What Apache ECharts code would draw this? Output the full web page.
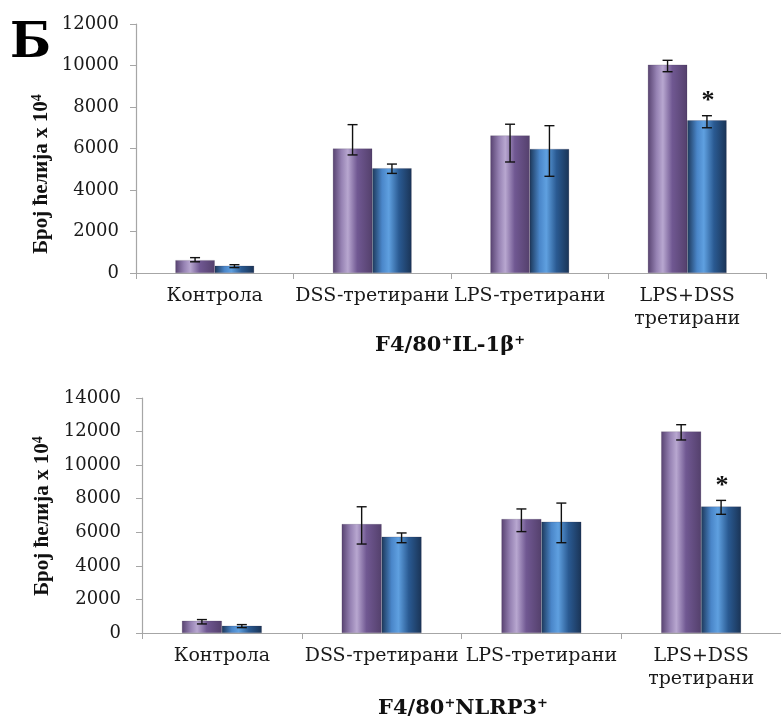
<!DOCTYPE html>
<html>
<head>
<meta charset="utf-8">
<script src="https://cdn.jsdelivr.net/npm/echarts@6/dist/echarts.min.js"></script>
<style>
html,body{margin:0;padding:0;background:#fff;}
#chart{width:781px;height:720px;}
</style>
</head>
<body>
<div id="chart"></div>
<script>
// ---- data ----
var categories = ['Контрола', 'DSS-третирани', 'LPS-третирани', 'LPS+DSS\nтретирани'];

// Chart 1: F4/80+IL-1β+
var il1bPurple = [620, 6000, 6630, 10040];
var il1bPurpleLow = [540, 5690, 5350, 9700];
var il1bPurpleHigh = [740, 7150, 7170, 10250];
var il1bBlue = [350, 5050, 5980, 7360];
var il1bBlueLow = [260, 4800, 4660, 7000];
var il1bBlueHigh = [400, 5250, 7100, 7580];
var il1bSig = ['', '', '', '*'];

// Chart 2: F4/80+NLRP3+
var nlrpPurple = [730, 6490, 6790, 12010];
var nlrpPurpleLow = [540, 5300, 6040, 11500];
var nlrpPurpleHigh = [800, 7520, 7390, 12410];
var nlrpBlue = [430, 5740, 6630, 7540];
var nlrpBlueLow = [320, 5380, 5380, 7070];
var nlrpBlueHigh = [500, 5960, 7740, 7900];
var nlrpSig = ['', '', '', '*'];

var yTicks1 = {min: 0, max: 12000, interval: 2000};
var yTicks2 = {min: 0, max: 14000, interval: 2000};

// ---- styles ----
var serif = 'DejaVu Serif';
var purpleGrad = new echarts.graphic.LinearGradient(0, 0, 1, 0, [
  {offset: 0, color: '#574270'},
  {offset: 0.22, color: '#9682b3'},
  {offset: 0.38, color: '#b8a7d0'},
  {offset: 0.62, color: '#705892'},
  {offset: 1, color: '#54406c'}
]);
var blueGrad = new echarts.graphic.LinearGradient(0, 0, 1, 0, [
  {offset: 0, color: '#1c3759'},
  {offset: 0.25, color: '#4a86c9'},
  {offset: 0.42, color: '#5fa0e0'},
  {offset: 0.68, color: '#2a5a92'},
  {offset: 1, color: '#1a3456'}
]);

function errData(low, high, sig) {
  return low.map(function (l, i) { return [i, l, high[i], sig ? sig[i] : '']; });
}

function errSeries(xi, yi, data, side) {
  return {
    type: 'custom',
    xAxisIndex: xi, yAxisIndex: yi,
    z: 10,
    renderItem: function (params, api) {
      var band = api.size([1, 0])[0];
      var c = api.coord([api.value(0), api.value(2)]);
      var lo = api.coord([api.value(0), api.value(1)]);
      var x = c[0] + side * band * 0.125;
      var cap = 5;
      var st = {stroke: '#111', lineWidth: 1.4};
      var children = [
        {type: 'line', shape: {x1: x, y1: c[1], x2: x, y2: lo[1]}, style: st},
        {type: 'line', shape: {x1: x - cap, y1: c[1], x2: x + cap, y2: c[1]}, style: st},
        {type: 'line', shape: {x1: x - cap, y1: lo[1], x2: x + cap, y2: lo[1]}, style: st}
      ];
      var s = api.value(3);
      if (s) {
        children.push({type: 'text', x: x + 1, y: c[1] - 14, style: {
          text: s, font: 'bold 26px "Liberation Serif"', fill: '#111', align: 'center', verticalAlign: 'middle'
        }});
      }
      return {type: 'group', children: children};
    },
    data: data
  };
}

function barSeries(xi, yi, data, grad) {
  return {
    type: 'bar', xAxisIndex: xi, yAxisIndex: yi,
    data: data, barGap: '0%', barCategoryGap: '50%',
    itemStyle: {color: grad, borderColor: 'rgba(40,30,60,0.35)', borderWidth: 0.5},
    silent: true
  };
}

var axisColor = '#a6a6a6';
function xAx(gi) {
  return {
    type: 'category', gridIndex: gi, data: categories,
    axisLine: {lineStyle: {color: axisColor, width: 1.2}},
    axisTick: {show: true, length: 6, lineStyle: {color: axisColor}},
    axisLabel: {color: '#1a1a1a', fontFamily: serif, fontSize: 19, margin: 12, lineHeight: 23, interval: 0}
  };
}
function yAx(gi, t, margin) {
  return {
    type: 'value', gridIndex: gi, min: t.min, max: t.max, interval: t.interval,
    axisLine: {show: true, lineStyle: {color: axisColor, width: 1.2}},
    axisTick: {show: true, length: 6, lineStyle: {color: axisColor}},
    splitLine: {show: false},
    axisLabel: {color: '#1a1a1a', fontFamily: serif, fontSize: 18, margin: margin,
      formatter: function (v) { return String(v); }}
  };
}

var richBold = {
  a: {font: 'bold 21px ' + serif, fill: '#111'},
  s: {font: 'bold 13px ' + serif, fill: '#111', padding: [0, 0, 11, 0]}
};
var richName = {
  a: {font: 'bold 21px "Liberation Serif"', fill: '#111'},
  s: {font: 'bold 14px "Liberation Serif"', fill: '#111', padding: [0, 0, 10, 0]}
};

var chart = echarts.init(document.getElementById('chart'), null, {renderer: 'canvas'});
chart.setOption({
  animation: false,
  backgroundColor: '#fff',
  grid: [
    {left: 136, right: 15, top: 24, height: 249},
    {left: 142, right: -7, top: 398, height: 235}
  ],
  xAxis: [xAx(0), xAx(1)],
  yAxis: [yAx(0, yTicks1, 17), yAx(1, yTicks2, 21)],
  series: [
    barSeries(0, 0, il1bPurple, purpleGrad),
    barSeries(0, 0, il1bBlue, blueGrad),
    errSeries(0, 0, errData(il1bPurpleLow, il1bPurpleHigh), -1),
    errSeries(0, 0, errData(il1bBlueLow, il1bBlueHigh, il1bSig), 1),
    barSeries(1, 1, nlrpPurple, purpleGrad),
    barSeries(1, 1, nlrpBlue, blueGrad),
    errSeries(1, 1, errData(nlrpPurpleLow, nlrpPurpleHigh), -1),
    errSeries(1, 1, errData(nlrpBlueLow, nlrpBlueHigh, nlrpSig), 1)
  ],
  graphic: [
    {type: 'text', left: 10, top: 21, style: {text: 'Б', font: 'bold 48px ' + serif, fill: '#000'}},
    {type: 'text', x: 42, y: 174, rotation: Math.PI / 2, style: {
      text: '{a|Број ћелија x 10}{s|4}', align: 'center', verticalAlign: 'middle', rich: richName
    }},
    {type: 'text', x: 43, y: 516, rotation: Math.PI / 2, style: {
      text: '{a|Број ћелија x 10}{s|4}', align: 'center', verticalAlign: 'middle', rich: richName
    }},
    {type: 'text', x: 450, y: 346, style: {
      text: '{a|F4/80}{s|+}{a|IL-1β}{s|+}', align: 'center', verticalAlign: 'middle', rich: richBold
    }},
    {type: 'text', x: 463, y: 709, style: {
      text: '{a|F4/80}{s|+}{a|NLRP3}{s|+}', align: 'center', verticalAlign: 'middle', rich: richBold
    }}
  ]
});
</script>
</body>
</html>
